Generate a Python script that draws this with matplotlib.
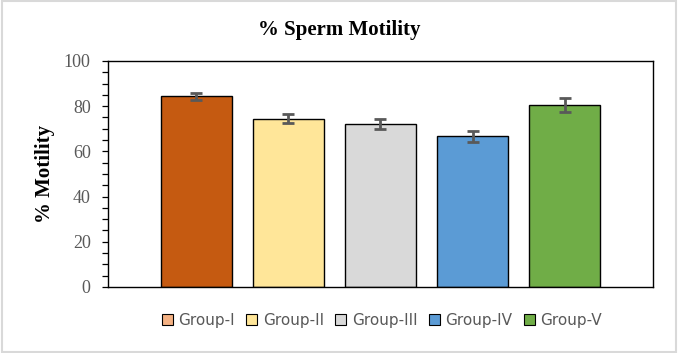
import matplotlib

matplotlib.use("Agg")
import matplotlib.pyplot as plt
from matplotlib.patches import Patch, Rectangle
from matplotlib.ticker import MultipleLocator

groups = ["Group-I", "Group-II", "Group-III", "Group-IV", "Group-V"]
motility = [84.4, 74.5, 72.0, 66.7, 80.4]
sem = [1.6, 2.1, 2.3, 2.5, 3.1]

bar_colors = ["#C55A11", "#FFE699", "#D9D9D9", "#5B9BD5", "#70AD47"]
legend_colors = ["#F4B183", "#FFE699", "#D9D9D9", "#5B9BD5", "#70AD47"]
SERIF = "Liberation Serif"

fig = plt.figure(figsize=(6.78, 3.53), dpi=100)
ax = fig.add_axes([0.1593, 0.187, 0.8038, 0.6402])

x = range(len(groups))
ax.bar(x, motility, width=0.77, color=bar_colors, edgecolor="black",
       linewidth=1.0, zorder=2)
ax.errorbar(x, motility, yerr=sem, fmt="none", ecolor="#595959",
            elinewidth=2, capsize=4.5, capthick=2, zorder=3)

ax.set_xlim(-0.96, 4.96)
ax.set_ylim(0, 100)
ax.set_xticks([])
ax.yaxis.set_major_locator(MultipleLocator(20))
ax.yaxis.set_minor_locator(MultipleLocator(5))
ax.tick_params(axis="y", which="both", direction="out", length=4.5,
               width=0.9, color="black", labelcolor="#595959", labelsize=13,
               pad=8)
for lab in ax.get_yticklabels():
    lab.set_fontfamily(SERIF)
for sp in ax.spines.values():
    sp.set_color("black")
    sp.set_linewidth(1.0)

ax.set_ylabel("% Motility", fontfamily=SERIF, fontweight="bold",
              fontsize=15, labelpad=6)
fig.text(0.5, 0.915, "% Sperm Motility", ha="center", va="center",
         fontfamily=SERIF, fontweight="bold", fontsize=15)

handles = [Patch(facecolor=c, edgecolor="black", linewidth=0.8, label=g)
           for c, g in zip(legend_colors, groups)]
leg = fig.legend(handles=handles, loc="center", bbox_to_anchor=(0.563, 0.093),
                 ncol=5, frameon=False, fontsize=11, handlelength=0.72,
                 handleheight=0.72, handletextpad=0.35, columnspacing=0.75)
for t in leg.get_texts():
    t.set_color("#595959")

# chart-area border
fig.add_artist(Rectangle((0.003, 0.004), 0.994, 0.992, transform=fig.transFigure,
                         fill=False, edgecolor="#D9D9D9", linewidth=1.5))

fig.savefig("out.png", dpi=100, facecolor="white")
